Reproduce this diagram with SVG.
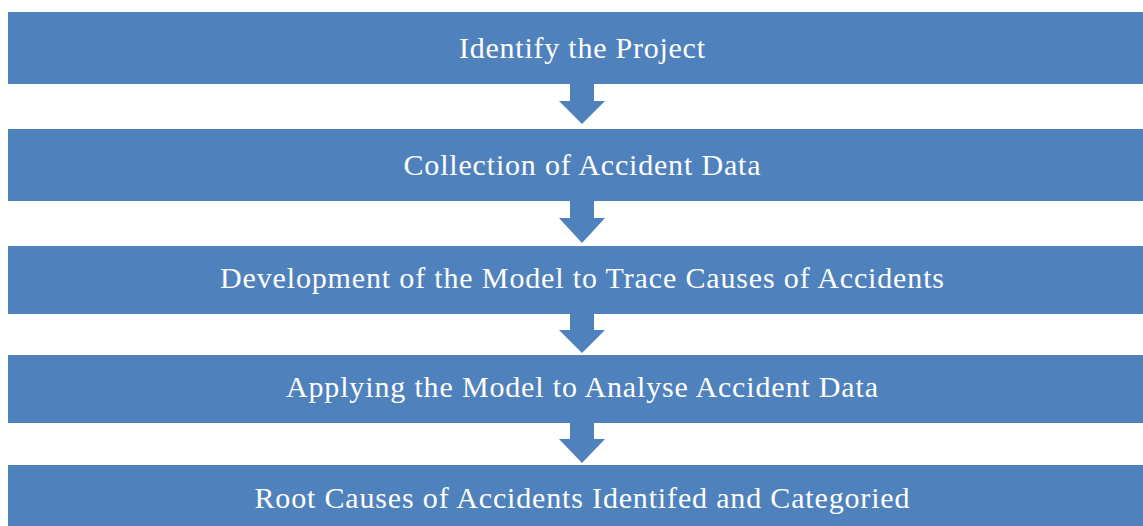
<svg xmlns="http://www.w3.org/2000/svg" width="1143" height="526" viewBox="0 0 1143 526">
<style>
.box{fill:#4F81BD}
.lbl{font-family:"Liberation Serif","Times New Roman",serif;font-size:30px;fill:#FFFFFF;text-anchor:middle}
.arr{fill:#4F81BD}
</style>
<rect width="1143" height="526" fill="#FFFFFF"/>
<g id="connectors">
<polygon class="arr" points="570,84 594,84 594,101 605,101 582,124 559,101 570,101"/>
<polygon class="arr" points="570,201 594,201 594,218 605,218 582,243 559,218 570,218"/>
<polygon class="arr" points="570,314 594,314 594,330 605,330 582,353 559,330 570,330"/>
<polygon class="arr" points="570,423 594,423 594,439 605,439 582,463 559,439 570,439"/>
</g>
<g id="node1"><rect class="box" x="8" y="12" width="1140" height="72"/><text class="lbl" x="582" y="58" textLength="246" lengthAdjust="spacing">Identify the Project</text></g>
<g id="node2"><rect class="box" x="8" y="129" width="1140" height="72"/><text class="lbl" x="582" y="175" textLength="357" lengthAdjust="spacing">Collection of Accident Data</text></g>
<g id="node3"><rect class="box" x="8" y="246" width="1140" height="68"/><text class="lbl" x="582" y="288" textLength="724" lengthAdjust="spacing">Development of the Model to Trace Causes of Accidents</text></g>
<g id="node4"><rect class="box" x="8" y="355" width="1140" height="68"/><text class="lbl" x="582" y="397" textLength="592" lengthAdjust="spacing">Applying the Model to Analyse Accident Data</text></g>
<g id="node5"><rect class="box" x="8" y="465" width="1140" height="70"/><text class="lbl" x="582" y="508" textLength="655" lengthAdjust="spacing">Root Causes of Accidents Identifed and Categoried</text></g>
</svg>
